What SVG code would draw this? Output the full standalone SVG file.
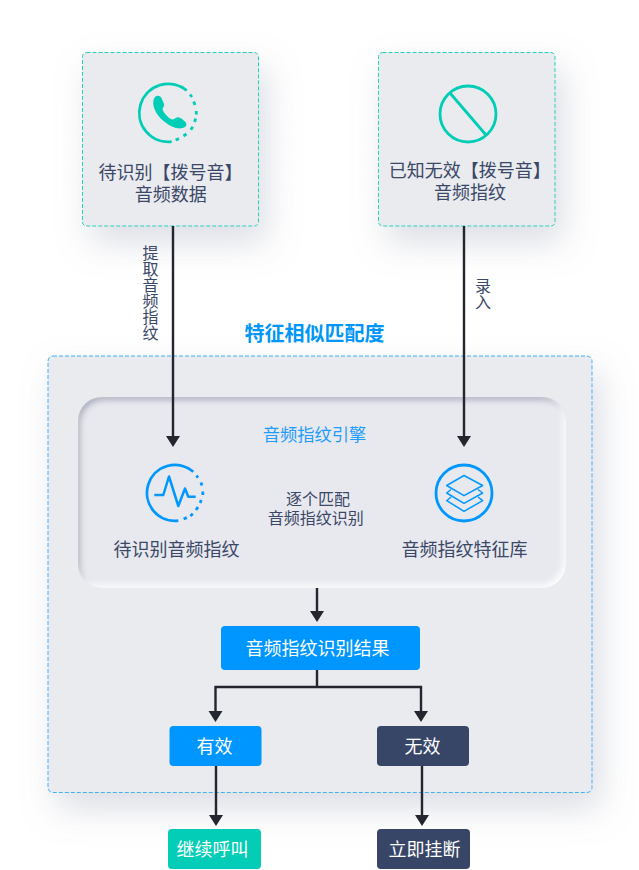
<svg xmlns="http://www.w3.org/2000/svg" width="639" height="870" viewBox="0 0 639 870">
<style>
text{font-family:"Noto Sans CJK SC","Noto Sans",sans-serif;text-anchor:middle;fill:#3a4766}
.t18{font-size:18px}.t16{font-size:16px}
.card{fill:#e9ebef;stroke:#20d0bd;stroke-width:1;stroke-dasharray:4 2}
.g{fill:none;stroke:#00cdb6;stroke-width:2.800}
.b{fill:none;stroke:#0098ff;stroke-width:2.800}
.c{fill:none;stroke:#23252f;stroke-width:2.400}
.h{fill:#23252f}
</style>
<defs>
<filter id="sh" x="-30%" y="-30%" width="160%" height="170%"><feDropShadow dx="8" dy="16" stdDeviation="17" flood-color="#8a93a8" flood-opacity=".3"/></filter>
<filter id="inset" x="-5%" y="-5%" width="110%" height="110%">
<feFlood flood-color="#8f94aa" flood-opacity=".85" result="f"/>
<feComposite in="f" in2="SourceAlpha" operator="out" result="o"/>
<feOffset in="o" dx="2" dy="3" result="oo"/>
<feGaussianBlur in="oo" stdDeviation="3" result="b1"/>
<feComposite in="b1" in2="SourceAlpha" operator="in" result="dark"/>
<feFlood flood-color="#fff" flood-opacity=".95" result="f2"/>
<feComposite in="f2" in2="SourceAlpha" operator="out" result="o2"/>
<feOffset in="o2" dx="-3" dy="-3" result="oo2"/>
<feGaussianBlur in="oo2" stdDeviation="3" result="b2"/>
<feComposite in="b2" in2="SourceAlpha" operator="in" result="light"/>
<feMerge><feMergeNode in="SourceGraphic"/><feMergeNode in="dark"/><feMergeNode in="light"/></feMerge>
</filter>
</defs>
<rect width="639" height="870" fill="#fff"/>
<g id="group-box">
<rect x="48" y="356" width="544" height="436.500" rx="5" fill="#e9ebef" stroke="#3fb0fb" stroke-width="1" stroke-dasharray="4 2" filter="url(#sh)"/>
<text x="314.500" y="341" font-size="20" font-weight="700" style="fill:#0096f8">特征相似匹配度</text>
</g>
<g id="engine">
<rect x="78" y="397" width="488" height="191" rx="24" fill="#e8e9ef" filter="url(#inset)"/>
<text x="314.500" y="441" font-size="17.300" style="fill:#1f9dfb">音频指纹引擎</text>
<text class="t16"><tspan x="318" y="505">逐个匹配</tspan><tspan x="315.700" y="524">音频指纹识别</tspan></text>
</g>
<g id="source-audio">
<rect class="card" x="82.500" y="52.500" width="176" height="173.500" rx="4" filter="url(#sh)"/>
<path class="g" d="M186.700 90.500A29 29 0 1 0 171.700 141.700"/>
<path class="g" d="M190 94.500L192 97M193.700 101.500L194.900 105M196.200 111L196.400 114.500M195.600 118.500L194.600 122M192.800 126.800L190.800 129.800M186.500 133.800L183.500 136M179 138.600L175.600 140"/>
<path fill="#00cdb6" d="M155 97C157 95 160 95.500 161.500 98L164 104C164.500 106 163 107.500 162.500 109C163 112 168 118 172 119.500C173.500 120 175 118 177 117.500C179 117 180 118 182 119L185.500 122C187 124 186.500 126 185 127C182 129 177 129 172 126.500C164 122.500 157 116 154.500 109C153 105 152.500 100 155 97Z"/>
<text class="t18"><tspan x="170.500" y="178.500">待识别【拨号音】</tspan><tspan x="170.700" y="201">音频数据</tspan></text>
</g>
<g id="known-audio">
<rect class="card" x="378.500" y="52.500" width="176.500" height="173.500" rx="4" filter="url(#sh)"/>
<circle class="g" cx="468" cy="114" r="28"/>
<path class="g" d="M450 93L486 135" stroke-width="2.500"/>
<text class="t18"><tspan x="469.800" y="177">已知无效【拨号音】</tspan><tspan x="470" y="199">音频指纹</tspan></text>
</g>
<g id="fingerprint-pending">
<path class="b" d="M193.300 471.700A28 28 0 1 0 178.300 520.700"/>
<path class="b" d="M196.500 475.500L198 477.700M200.900 482.500L202 485.500M202.800 491.500L202.800 495M201.200 500L200.200 503M198 507L196 510M192.800 513.800L190.400 516M186.800 517.600L183.600 519"/>
<path fill="none" stroke="#0098ff" stroke-width="2.500" stroke-linejoin="round" d="M154.300 495H163.300L169 476.500L178.300 506L185 488.500L188.300 496.700H195.700"/>
<text x="176.500" y="556" class="t18">待识别音频指纹</text>
</g>
<g id="fingerprint-library">
<circle class="b" cx="464" cy="493" r="28"/>
<path fill="none" stroke="#0098ff" stroke-width="1.500" stroke-linejoin="round" d="M464 475.500L446.700 485.500L464 495.700L482.700 485.500Z M451 489.500L446.700 493L464 503.300L482.700 493L478 489.500 M451 497L446.700 500.700L464 511.300L482.700 500.700L478 497"/>
<text x="464.500" y="556" class="t18">音频指纹特征库</text>
</g>
<g id="result">
<rect x="221" y="626" width="199" height="44" rx="4" fill="#0096ff"/>
<text x="317.500" y="655" class="t18" style="fill:#fff">音频指纹识别结果</text>
</g>
<g id="valid">
<rect x="169.500" y="726" width="92" height="40" rx="4" fill="#0096ff"/>
<text x="214.500" y="753" class="t18" style="fill:#fff">有效</text>
</g>
<g id="invalid">
<rect x="377" y="726" width="92" height="40" rx="4" fill="#374666"/>
<text x="422.500" y="753" class="t18" style="fill:#fff">无效</text>
</g>
<g id="continue">
<rect x="168" y="829" width="93" height="40" rx="4" fill="#03cdb6"/>
<text x="212.500" y="856" class="t18" style="fill:#fff">继续呼叫</text>
</g>
<g id="hangup">
<rect x="377" y="829" width="93" height="40" rx="4" fill="#374666"/>
<text x="424.500" y="856" class="t18" style="fill:#fff">立即挂断</text>
</g>
<g id="connectors">
<path class="c" d="M173 226V437M464 226V437M317 588V612M317 670V687M214.500 687H422M215.500 686V712M421 686V712M216 766V817M422 766V817"/>
<path class="h" d="M166 436H180L173 447ZM457 436H471L464 447ZM310 611H324L317 622ZM208.500 711H222.500L215.500 722ZM414 711H428L421 722ZM209 815H223L216 826ZM415 815H429L422 826Z"/>
<text x="150.500" y="245" class="t16" style="writing-mode:vertical-rl;text-anchor:start">提取音频指纹</text>
<text x="483" y="278" class="t16" style="writing-mode:vertical-rl;text-anchor:start">录入</text>
</g>
</svg>
